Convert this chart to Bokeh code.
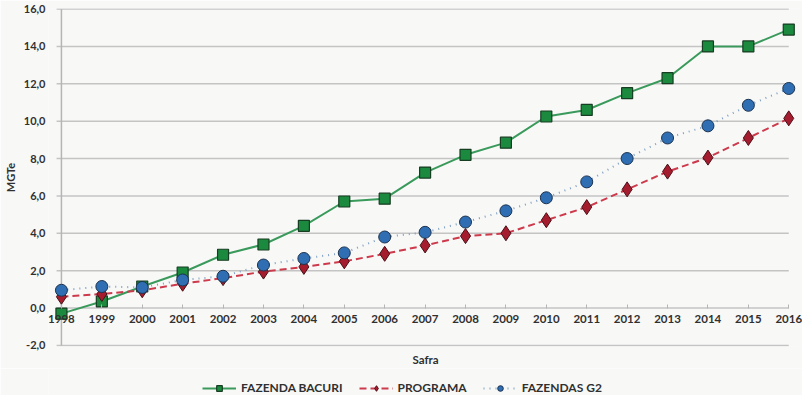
from bokeh.plotting import figure
from bokeh.models import Range1d, FixedTicker, LinearAxis, Legend, LegendItem
from bokeh.layouts import column
from bokeh.embed import file_html
from bokeh.resources import INLINE

years = list(range(1998, 2017))
bacuri = [-0.3, 0.35, 1.15, 1.9, 2.85, 3.4, 4.4, 5.7, 5.85, 7.25, 8.2, 8.85, 10.25, 10.6, 11.5, 12.3, 14.0, 14.0, 14.9]
programa = [0.6, 0.75, 0.95, 1.3, 1.6, 1.95, 2.2, 2.5, 2.9, 3.35, 3.85, 4.0, 4.7, 5.4, 6.35, 7.3, 8.05, 9.1, 10.15]
g2 = [0.95, 1.15, 1.1, 1.5, 1.7, 2.3, 2.65, 2.95, 3.8, 4.05, 4.6, 5.2, 5.9, 6.75, 8.0, 9.1, 9.75, 10.85, 11.75]
y_ticks = [-2, 0, 2, 4, 6, 8, 10, 12, 14, 16]
y_tick_labels = ["-2,0", "0,0", "2,0", "4,0", "6,0", "8,0", "10,0", "12,0", "14,0", "16,0"]
series_names = ["FAZENDA BACURI", "PROGRAMA", "FAZENDAS G2"]

FONT = "Lato"
FS = "11.5px"
BG = "#f8f8f7"
TXT = "#303030"
AX = "#b5b5b5"
GRID = "#c4c4c4"

STYLES = [
    dict(line=dict(line_color="#3a9a5c", line_width=2),
         marker=dict(marker="square", size=11, fill_color="#1b8a3e", line_color="#173d22", line_width=1.2)),
    dict(line=dict(line_color="#cc3a4c", line_width=2, line_dash="7 4"),
         marker=dict(marker="diamond", size=15, fill_color="#a51c2e", line_color="#4a1018", line_width=1)),
    dict(line=dict(line_color="#7f9fc4", line_width=2, line_dash="1 5"),
         marker=dict(marker="circle", size=12, fill_color="#2f6eb2", line_color="#1c3350", line_width=1)),
]

p = figure(width=802, height=368, output_backend="svg", toolbar_location=None,
           x_range=Range1d(1997.68, 2016.34), y_range=Range1d(-2.06, 16.03),
           min_border_left=40, min_border_right=0, min_border_top=8, min_border_bottom=19,
           background_fill_color=BG, border_fill_color=BG, outline_line_color=None)

# bottom axis only carries the "Safra" title
p.xaxis.ticker = FixedTicker(ticks=[])
p.xaxis.axis_line_color = None
p.xaxis.major_tick_line_color = None
p.xaxis.minor_tick_line_color = None
p.xaxis.major_tick_out = 0
p.xaxis.minor_tick_out = 0
p.xaxis.major_label_text_font_size = "1px"
p.xaxis.major_label_standoff = 0
p.xaxis.axis_label = "Safra"
p.xaxis.axis_label_text_font = FONT
p.xaxis.axis_label_text_font_style = "bold"
p.xaxis.axis_label_text_font_size = FS
p.xaxis.axis_label_text_color = TXT
p.xaxis.axis_label_standoff = 6

# year axis crossing at zero
xa = LinearAxis(fixed_location=0, ticker=FixedTicker(ticks=years),
                axis_line_color=None,
                major_tick_in=4, major_tick_out=0, major_tick_line_color=AX,
                minor_tick_line_color=None,
                major_label_text_font=FONT, major_label_text_font_style="bold",
                major_label_text_font_size=FS, major_label_text_color=TXT,
                major_label_standoff=7)
p.add_layout(xa, "below")

p.yaxis.ticker = FixedTicker(ticks=y_ticks)
p.yaxis.major_label_overrides = {t: l for t, l in zip(y_ticks, y_tick_labels)}
p.yaxis.axis_line_color = None
p.yaxis.major_tick_line_color = None
p.yaxis.minor_tick_line_color = None
p.yaxis.major_tick_in = 0
p.yaxis.major_tick_out = 0
p.yaxis.minor_tick_in = 0
p.yaxis.minor_tick_out = 0
p.yaxis.major_label_text_font = FONT
p.yaxis.major_label_text_font_style = "bold"
p.yaxis.major_label_text_font_size = "11px"
p.yaxis.major_label_text_color = TXT
p.yaxis.major_label_standoff = 3
p.yaxis.axis_label = "MGTe"
p.yaxis.axis_label_text_font = FONT
p.yaxis.axis_label_text_font_style = "bold"
p.yaxis.axis_label_text_font_size = "11px"
p.yaxis.axis_label_text_color = TXT
p.yaxis.axis_label_standoff = 4

p.xgrid.grid_line_color = None
p.ygrid.grid_line_color = None

# horizontal grid lines and vertical axis line, spanning the year range
n = len(y_ticks)
p.segment(x0=[years[0] - 0.12] * n, y0=y_ticks, x1=[years[-1]] * n, y1=y_ticks,
          line_color=GRID, line_width=1.5)
p.segment(x0=[years[0]], y0=[y_ticks[0]], x1=[years[0]], y1=[y_ticks[-1]], line_color=AX, line_width=1.5)

# series
for vals, st in zip([bacuri, programa, g2], STYLES):
    p.line(years, vals, **st["line"])
    p.scatter(years, vals, **st["marker"])

# legend strip underneath
p2 = figure(width=802, height=27, output_backend="svg", toolbar_location=None,
            x_range=Range1d(0, 1), y_range=Range1d(0, 1), x_axis_type=None, y_axis_type=None,
            min_border=0, background_fill_color=BG, border_fill_color=BG, outline_line_color=None)
p2.xgrid.grid_line_color = None
p2.ygrid.grid_line_color = None
nan = float("nan")
items = []
for name, st in zip(series_names, STYLES):
    r1 = p2.line([nan], [nan], **st["line"])
    r2 = p2.scatter([nan], [nan], **st["marker"])
    items.append(LegendItem(label=name, renderers=[r1, r2]))
legend = Legend(items=items, orientation="horizontal", location=(154, 0),
                label_text_font=FONT, label_text_font_style="bold", label_text_font_size="12px",
                label_text_color=TXT, glyph_width=34, glyph_height=14, spacing=16, label_standoff=5,
                border_line_color=None, background_fill_alpha=0, padding=0, margin=1)
p2.add_layout(legend)

open("out.html", "w").write(file_html(column(p, p2, spacing=0), INLINE))
